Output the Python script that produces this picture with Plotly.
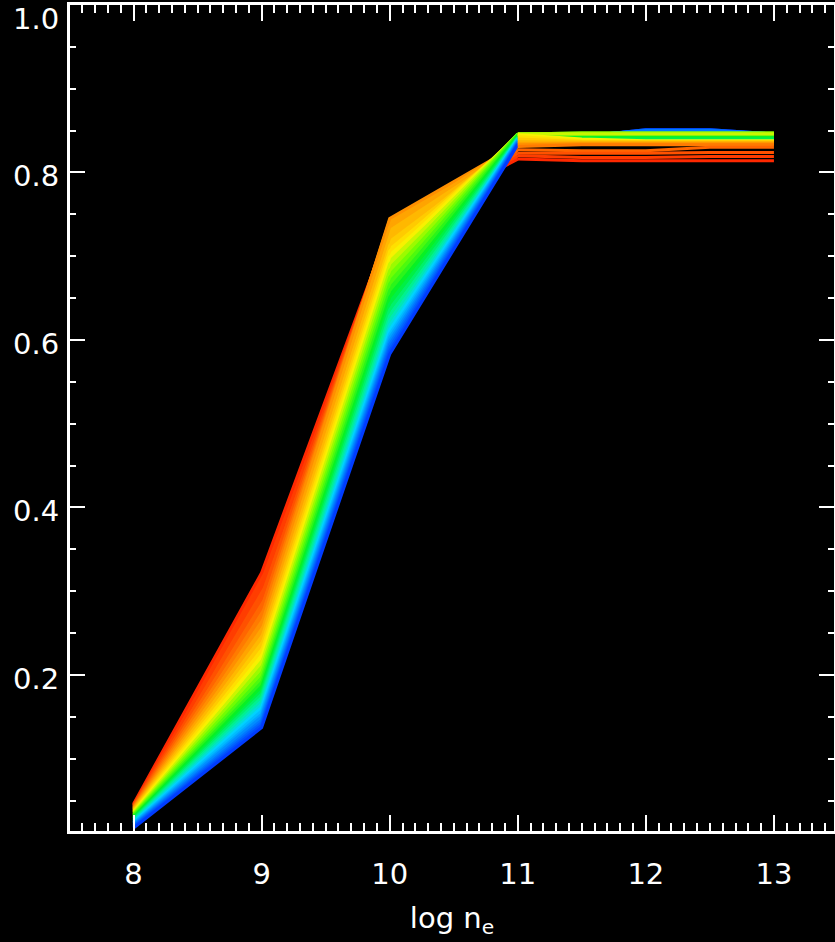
import plotly.graph_objects as go
from plotly.colors import sample_colorscale

# ---- data: x grid (log n_e) and one column of line values per x ----
log_ne = [8, 9, 10, 11, 11.5, 12, 12.5, 13]

f_8 = [0.017, 0.018, 0.019, 0.020, 0.021, 0.022, 0.023, 0.024, 0.025, 0.026,
       0.027, 0.028, 0.029, 0.030, 0.031, 0.032, 0.033, 0.034, 0.035, 0.036,
       0.037, 0.038, 0.039, 0.040, 0.041, 0.042, 0.043, 0.044, 0.045, 0.046]
f_9 = [0.137, 0.140, 0.143, 0.146, 0.150, 0.153, 0.157, 0.161, 0.165, 0.169,
       0.173, 0.177, 0.181, 0.186, 0.191, 0.196, 0.202, 0.208, 0.215, 0.222,
       0.229, 0.236, 0.244, 0.252, 0.261, 0.270, 0.280, 0.291, 0.305, 0.322]
f_10 = [0.583, 0.587, 0.591, 0.595, 0.599, 0.603, 0.607, 0.612, 0.617, 0.623,
        0.629, 0.636, 0.643, 0.651, 0.659, 0.667, 0.675, 0.683, 0.691, 0.699,
        0.706, 0.713, 0.722, 0.735, 0.745, 0.743, 0.741, 0.739, 0.737, 0.735]
f_11 = [0.833, 0.834, 0.835, 0.836, 0.837, 0.838, 0.839, 0.840, 0.840, 0.841,
        0.841, 0.842, 0.843, 0.844, 0.845, 0.846, 0.846, 0.846, 0.846, 0.845,
        0.843, 0.840, 0.837, 0.835, 0.833, 0.831, 0.827, 0.823, 0.820, 0.816]
f_11p5 = [0.843, 0.843, 0.844, 0.844, 0.842, 0.842, 0.841, 0.841, 0.841, 0.841,
          0.841, 0.841, 0.842, 0.844, 0.845, 0.846, 0.847, 0.847, 0.846, 0.840,
          0.838, 0.837, 0.836, 0.835, 0.834, 0.833, 0.826, 0.823, 0.818, 0.814]
f_12 = [0.851, 0.851, 0.850, 0.850, 0.842, 0.842, 0.841, 0.841, 0.841, 0.841,
        0.841, 0.841, 0.842, 0.844, 0.845, 0.846, 0.847, 0.847, 0.846, 0.838,
        0.837, 0.836, 0.836, 0.835, 0.834, 0.833, 0.826, 0.823, 0.818, 0.814]
f_12p5 = [0.851, 0.851, 0.850, 0.850, 0.842, 0.842, 0.841, 0.841, 0.841, 0.841,
          0.841, 0.841, 0.842, 0.844, 0.845, 0.846, 0.847, 0.847, 0.846, 0.838,
          0.837, 0.836, 0.836, 0.835, 0.834, 0.833, 0.830, 0.824, 0.819, 0.814]
f_13 = [0.846, 0.846, 0.846, 0.846, 0.842, 0.842, 0.841, 0.841, 0.841, 0.841,
        0.841, 0.841, 0.842, 0.844, 0.845, 0.846, 0.847, 0.847, 0.846, 0.838,
        0.837, 0.836, 0.836, 0.835, 0.834, 0.833, 0.830, 0.824, 0.819, 0.814]

columns = [f_8, f_9, f_10, f_11, f_11p5, f_12, f_12p5, f_13]

x_ticks = [8, 9, 10, 11, 12, 13]
x_ticklabels = ["8", "9", "10", "11", "12", "13"]
y_ticks = [0.2, 0.4, 0.6, 0.8, 1.0]
y_ticklabels = ["0.2", "0.4", "0.6", "0.8", "1.0"]
y_label_shift = [-4, -4, -4, -4, -14]

# ---- style ----
rainbow = [
    [0.00, "rgb(0,60,255)"],
    [0.12, "rgb(0,130,255)"],
    [0.24, "rgb(0,210,255)"],
    [0.34, "rgb(0,240,150)"],
    [0.44, "rgb(0,240,40)"],
    [0.56, "rgb(120,255,0)"],
    [0.66, "rgb(255,240,0)"],
    [0.80, "rgb(255,160,0)"],
    [0.90, "rgb(255,100,0)"],
    [1.00, "rgb(255,40,0)"],
]
n_lines = len(f_8)
colors = sample_colorscale(rainbow, [i / (n_lines - 1) for i in range(n_lines)])
FONT = "DejaVu Sans"
n_rise = 4  # points 8..11 form the rising, continuous band

# rising band: red drawn first, blue last
rise_order = list(range(n_lines - 1, -1, -1))
# plateau: blue drawn first, red last
plateau_order = list(range(n_lines))

fig = go.Figure()
for k, i in enumerate(rise_order):
    fig.add_trace(go.Scatter(
        x=log_ne[:n_rise], y=[col[i] for col in columns[:n_rise]], mode="lines",
        line=dict(color=colors[i], width=3),
        fill="tonexty" if k > 0 else None, fillcolor=colors[i],
        showlegend=False, hoverinfo="skip",
    ))
for i in plateau_order:
    fig.add_trace(go.Scatter(
        x=log_ne[n_rise - 1:], y=[col[i] for col in columns[n_rise - 1:]], mode="lines",
        line=dict(color=colors[i], width=3),
        showlegend=False, hoverinfo="skip",
    ))

axis_common = dict(
    showline=True, linecolor="white", linewidth=2.5, mirror="ticks",
    ticks="inside", tickcolor="white", tickwidth=2,
    showgrid=False, zeroline=False, automargin=False,
)
fig.update_xaxes(
    range=[7.504, 13.469], tickvals=x_ticks, ticktext=x_ticklabels, ticklen=16,
    tickfont=dict(family=FONT, size=29, color="white"),
    minor=dict(dtick=0.1, tick0=0, ticklen=8, tickwidth=2, tickcolor="white", ticks="inside"),
    title=dict(text="log n<sub>e</sub>", font=dict(family=FONT, size=29, color="white"), standoff=19),
    ticklabelstandoff=15,
    **axis_common,
)
fig.update_yaxes(
    range=[0.0136, 1.0], tickvals=y_ticks, ticklen=15, showticklabels=False,
    minor=dict(dtick=0.05, tick0=0, ticklen=6, tickwidth=2, tickcolor="white", ticks="inside"),
    **axis_common,
)
for v, txt, sh in zip(y_ticks, y_ticklabels, y_label_shift):
    fig.add_annotation(
        x=0, xref="paper", y=v, yref="y", text=txt, showarrow=False,
        xanchor="right", yanchor="middle", xshift=-9, yshift=sh,
        font=dict(family=FONT, size=29, color="white"),
    )

fig.update_layout(
    width=835, height=942,
    margin=dict(l=70, r=1, t=5, b=111),
    paper_bgcolor="black", plot_bgcolor="black",
)
fig.write_html(
    "out.html",
    config={"displayModeBar": False},
    post_script="document.body.style.margin='0';document.body.style.overflow='hidden';"
                "document.body.style.background='black';",
)
